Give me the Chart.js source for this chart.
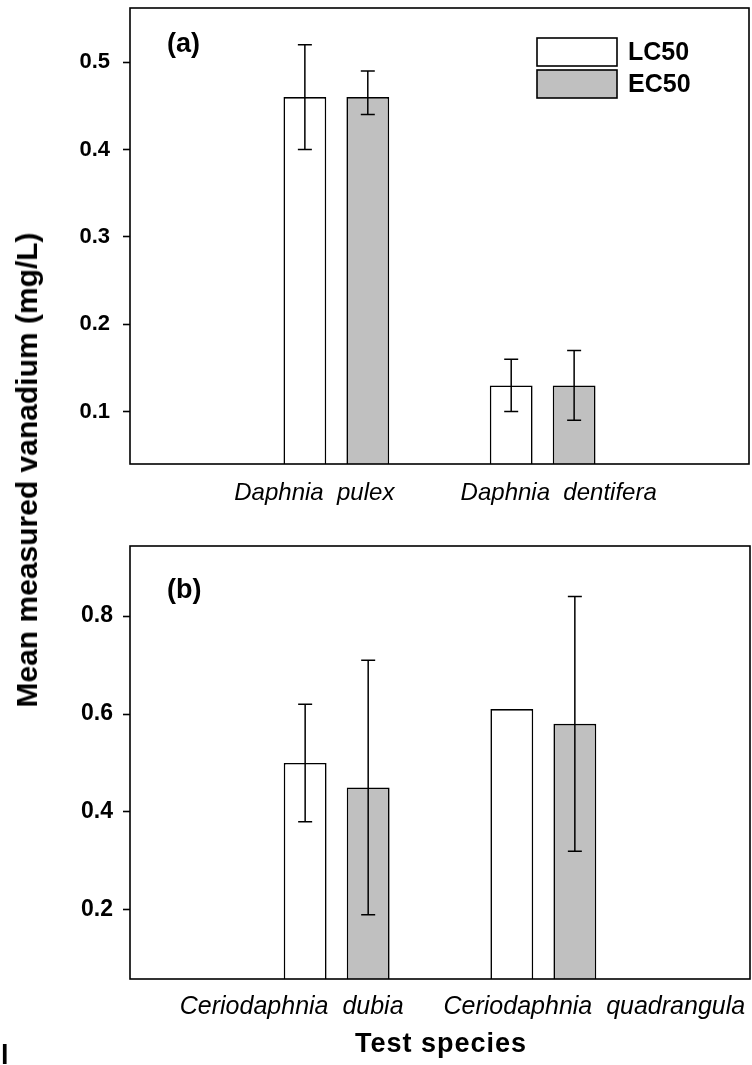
<!DOCTYPE html>
<html>
<head>
<meta charset="utf-8">
<script src="https://cdn.jsdelivr.net/npm/chart.js@4.4.0/dist/chart.umd.min.js"></script>
<style>
  html, body { margin: 0; padding: 0; background: #fff; }
  #wrap { position: relative; width: 752px; height: 1065px; overflow: hidden; background: #fff; }
  #ca { position: absolute; left: 0; top: 0; }
  #cb { position: absolute; left: 0; top: 530px; }
  #ytitle { position: absolute; left: 27px; top: 470px; transform: translate(-50%, -50%) rotate(-90deg);
            font: bold 30px "Liberation Sans", Arial, sans-serif; white-space: pre; color: #000; line-height: 30px; }
  #xtitle { position: absolute; left: 441px; top: 1030px; transform: translateX(-50%);
            font: bold 27px "Liberation Sans", Arial, sans-serif; letter-spacing: 1px; white-space: pre; color: #000; line-height: 27px; }
  #stray { position: absolute; left: 1px; top: 1042px; font: bold 27px "Liberation Sans", Arial, sans-serif; color: #000; line-height: 27px; }
</style>
</head>
<body>
<div id="wrap">
  <canvas id="ca" width="752" height="530"></canvas>
  <canvas id="cb" width="752" height="535"></canvas>
  <div id="ytitle">Mean measured vanadium (mg/L)</div>
  <div id="xtitle">Test species</div>
  <div id="stray">l</div>
</div>
<script>
// ---------------- DATA ----------------
const seriesNames = ['LC50', 'EC50'];

const categoriesA = ['', 'Daphnia  pulex', 'Daphnia  dentifera', ''];
const lc50A     = [null, 0.46, 0.13, null];
const lc50ALow  = [null, 0.40, 0.10, null];
const lc50AHigh = [null, 0.52, 0.16, null];
const ec50A     = [null, 0.46, 0.13, null];
const ec50ALow  = [null, 0.44, 0.09, null];
const ec50AHigh = [null, 0.49, 0.17, null];
const yTicksA   = [0.1, 0.2, 0.3, 0.4, 0.5];

const categoriesB = ['', 'Ceriodaphnia  dubia', 'Ceriodaphnia  quadrangula', ''];
const lc50B     = [null, 0.50, 0.61, null];
const lc50BLow  = [null, 0.38, null, null];
const lc50BHigh = [null, 0.62, null, null];
const ec50B     = [null, 0.45, 0.58, null];
const ec50BLow  = [null, 0.19, 0.32, null];
const ec50BHigh = [null, 0.71, 0.84, null];
const yTicksB   = [0.2, 0.4, 0.6, 0.8];

// ---------------- STYLE ----------------
const FONT = '"Liberation Sans", Arial, sans-serif';
const fills = ['#ffffff', '#c0c0c0'];

const panelPlugin = {
  id: 'panelPlugin',
  afterDatasetsDraw(chart, args, opts) {
    const ctx = chart.ctx;
    const ca = chart.chartArea;
    const y = chart.scales.y;
    const x = chart.scales.x;
    ctx.save();
    // error bars
    ctx.strokeStyle = '#000';
    ctx.lineWidth = 1.5;
    chart.data.datasets.forEach((ds, di) => {
      const meta = chart.getDatasetMeta(di);
      meta.data.forEach((el, j) => {
        const lo = ds.errLow[j], hi = ds.errHigh[j];
        if (lo == null || hi == null) return;
        const px = el.x;
        const yl = y.getPixelForValue(lo), yh = y.getPixelForValue(hi);
        ctx.beginPath();
        ctx.moveTo(px, yl); ctx.lineTo(px, yh);
        ctx.moveTo(px - 7, yl); ctx.lineTo(px + 7, yl);
        ctx.moveTo(px - 7, yh); ctx.lineTo(px + 7, yh);
        ctx.stroke();
      });
    });
    // frame
    ctx.lineWidth = 1.6;
    ctx.strokeRect(ca.left, ca.top, ca.right - ca.left, ca.bottom - ca.top);
    // panel label
    ctx.fillStyle = '#000';
    ctx.font = 'bold 27px ' + FONT;
    ctx.textAlign = 'left';
    ctx.textBaseline = 'alphabetic';
    ctx.fillText(opts.panelLabel, ca.left + opts.labelDx, ca.top + opts.labelDy);
    // category labels
    ctx.font = 'italic ' + opts.catFont + 'px ' + FONT;
    ctx.textAlign = 'center';
    chart.data.labels.forEach((lab, i) => {
      if (!lab) return;
      ctx.fillText(lab, x.getPixelForValue(i) + opts.catShift[i], ca.bottom + opts.catDy);
    });
    // legend
    if (opts.legend) {
      ctx.font = 'bold 25px ' + FONT;
      ctx.textAlign = 'left';
      ctx.textBaseline = 'middle';
      chart.data.datasets.forEach((ds, di) => {
        const bx = ca.right - 212, by = ca.top + 30 + di * 32, bw = 80, bh = 28;
        ctx.fillStyle = ds.backgroundColor;
        ctx.fillRect(bx, by, bw, bh);
        ctx.lineWidth = 1.6;
        ctx.strokeStyle = '#000';
        ctx.strokeRect(bx, by, bw, bh);
        ctx.fillStyle = '#000';
        ctx.fillText(ds.label, bx + bw + 11, by + bh / 2 + 1);
      });
    }
    ctx.restore();
  }
};

function noPad(s) { s.paddingTop = 0; s.paddingBottom = 0; s.paddingLeft = 0; s.paddingRight = 0; }

function makeChart(canvasId, labels, lc, lcLo, lcHi, ec, ecLo, ecHi, yTicks, cfg) {
  return new Chart(document.getElementById(canvasId), {
    type: 'bar',
    data: {
      labels: labels,
      datasets: [
        { label: seriesNames[0], data: lc, errLow: lcLo, errHigh: lcHi,
          backgroundColor: fills[0], borderColor: '#000', borderWidth: 1.6 },
        { label: seriesNames[1], data: ec, errLow: ecLo, errHigh: ecHi,
          backgroundColor: fills[1], borderColor: '#000', borderWidth: 1.6 }
      ]
    },
    options: {
      responsive: false,
      animation: false,
      devicePixelRatio: 1,
      layout: { padding: { left: 0, top: cfg.padTop, right: cfg.padRight, bottom: 0 } },
      datasets: { bar: { categoryPercentage: 0.61, barPercentage: 0.68 } },
      plugins: {
        legend: { display: false },
        tooltip: { enabled: false },
        panelPlugin: cfg.plugin
      },
      scales: {
        x: {
          type: 'category',
          offset: false,
          grid: { display: false },
          border: { display: false },
          ticks: { display: false },
          afterFit(s) { s.height = cfg.xHeight; noPad(s); }
        },
        y: {
          min: cfg.yMin, max: cfg.yMax,
          border: { display: false },
          grid: { drawOnChartArea: false, drawTicks: true, tickLength: 7, tickColor: '#000', tickWidth: 1.6 },
          ticks: {
            color: '#000', padding: cfg.tickPad,
            font: { family: FONT, size: cfg.tickFont, weight: 'bold' },
            callback: v => Number(v).toFixed(1)
          },
          afterBuildTicks(s) { s.ticks = yTicks.map(v => ({ value: v })); },
          afterFit(s) { s.width = 130; noPad(s); }
        }
      }
    },
    plugins: [panelPlugin]
  });
}

makeChart('ca', categoriesA, lc50A, lc50ALow, lc50AHigh, ec50A, ec50ALow, ec50AHigh, yTicksA, {
  padTop: 8, padRight: 3, xHeight: 66, yMin: 0.04, yMax: 0.562, tickPad: 13, tickFont: 22,
  plugin: { panelLabel: '(a)', labelDx: 37, labelDy: 44, catFont: 24, catDy: 36,
            catShift: [0, -22, 16, 0], legend: true }
});

makeChart('cb', categoriesB, lc50B, lc50BLow, lc50BHigh, ec50B, ec50BLow, ec50BHigh, yTicksB, {
  padTop: 16, padRight: 2, xHeight: 86, yMin: 0.059, yMax: 0.943, tickPad: 10, tickFont: 23,
  plugin: { panelLabel: '(b)', labelDx: 37, labelDy: 52, catFont: 25, catDy: 35,
            catShift: [0, -45, 51, 0], legend: false }
});
</script>
</body>
</html>
